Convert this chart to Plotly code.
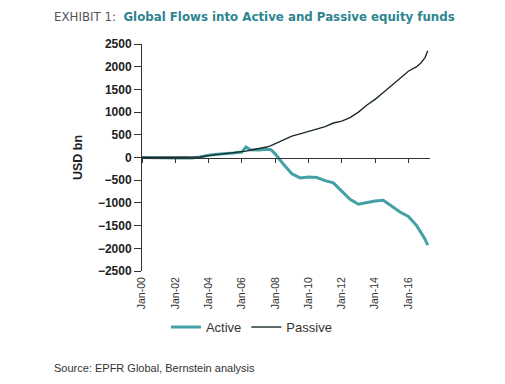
import plotly.graph_objects as go

dates = ["2000-01-01","2000-07-01","2001-01-01","2001-07-01","2002-01-01","2002-07-01",
         "2003-01-01","2003-07-01","2004-01-01","2004-07-01","2005-01-01","2005-07-01",
         "2006-01-01","2006-04-01","2006-07-01","2007-01-01","2007-07-01","2007-10-01",
         "2008-01-01","2008-04-01","2008-07-01","2009-01-01","2009-07-01","2010-01-01",
         "2010-07-01","2011-01-01","2011-07-01","2012-01-01","2012-07-01","2013-01-01",
         "2013-07-01","2014-01-01","2014-07-01","2015-01-01","2015-07-01","2016-01-01",
         "2016-07-01","2016-10-01","2017-01-01","2017-03-01"]
active = [0,-5,-10,-5,-10,-5,-10,10,50,70,80,100,120,230,170,165,180,170,80,-40,-150,
          -360,-450,-430,-440,-510,-560,-740,-920,-1030,-990,-960,-940,-1080,-1200,-1300,
          -1500,-1650,-1800,-1930]
passive = [0,0,-2,0,2,0,3,10,40,60,80,100,115,140,160,190,230,260,300,340,380,470,520,570,
           620,680,760,800,880,1000,1150,1280,1430,1590,1760,1900,2000,2080,2200,2350]

tick_vals = ["2000-01-01","2002-01-01","2004-01-01","2006-01-01","2008-01-01",
             "2010-01-01","2012-01-01","2014-01-01","2016-01-01"]
tick_text = ["Jan-00","Jan-02","Jan-04","Jan-06","Jan-08","Jan-10","Jan-12","Jan-14","Jan-16"]
y_ticks = [2500,2000,1500,1000,500,0,-500,-1000,-1500,-2000,-2500]

teal = "#43a0a7"
dark = "#1c2a2a"
xr = ["2000-01-01", "2017-04-20"]

# page body has an 8px margin, so the figure is sized/placed to compensate
fig = go.Figure()
fig.add_trace(go.Scatter(x=dates, y=active, name="Active", mode="lines",
                         line=dict(color=teal, width=3)))
fig.add_trace(go.Scatter(x=dates, y=passive, name="Passive", mode="lines",
                         line=dict(color=dark, width=1.4)))
# invisible trace for zero-axis ticks
fig.add_trace(go.Scatter(x=dates[:1], y=[0], xaxis="x2", mode="lines",
                         showlegend=False, hoverinfo="skip", line=dict(width=0)))

fig.update_layout(
    width=497, height=376,
    margin=dict(l=134, r=75, t=36, b=113, autoexpand=False),
    paper_bgcolor="white", plot_bgcolor="white",
    font=dict(family="Liberation Sans, Arial, sans-serif", color="#333333", size=11),
    showlegend=True,
    legend=dict(orientation="h", x=0.38, xanchor="center", y=-0.247, yanchor="middle",
                bgcolor="rgba(0,0,0,0)",
                font=dict(size=13, color="#333333"), itemwidth=30),
    xaxis=dict(type="date", range=xr, tickvals=tick_vals, ticktext=tick_text,
               tickangle=-90, showgrid=False, zeroline=False, showline=False,
               ticks="outside", ticklen=1, tickcolor="rgba(0,0,0,0)", automargin=False,
               tickfont=dict(size=10.5, color="#333333")),
    xaxis2=dict(type="date", range=xr, overlaying="x", anchor="free", position=0.5,
                tickvals=tick_vals, showticklabels=False, ticks="outside", ticklen=4,
                tickcolor="#333333", showline=True, linecolor="#333333", linewidth=1,
                showgrid=False, zeroline=False, side="bottom", automargin=False),
    yaxis=dict(range=[-2500, 2500], tickvals=y_ticks, showgrid=False, zeroline=False,
               showline=True, linecolor="#333333", linewidth=1, ticks="outside",
               ticklen=7, tickcolor="#333333", automargin=False,
               tickfont=dict(size=12, color="#222222", weight="bold"),
               title=dict(text="<b>USD bn</b>", font=dict(size=12.5, color="#222222"),
                          standoff=12)),
)

fig.add_annotation(xref="paper", yref="paper", x=-0.3125, y=1.0, xanchor="left",
                   yanchor="middle", yshift=27, showarrow=False,
                   text="<span style='color:#555555'>EXHIBIT 1:</span>  "
                        "<b><span style='color:#2d8590'>Global Flows into Active and Passive equity funds</span></b>",
                   font=dict(size=11.8, family="DejaVu Sans, sans-serif"))
fig.add_annotation(xref="paper", yref="paper", x=-0.3125, y=-0.427, xanchor="left",
                   yanchor="middle", showarrow=False,
                   text="Source: EPFR Global, Bernstein analysis",
                   font=dict(size=11, color="#333333"))

fig.write_html("out.html")
